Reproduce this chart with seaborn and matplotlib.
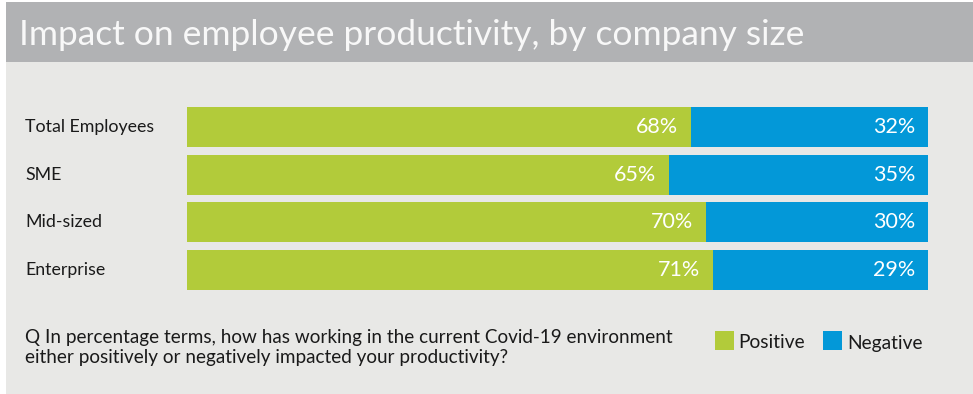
import matplotlib
matplotlib.use("Agg")
import matplotlib.pyplot as plt
from matplotlib.patches import Rectangle
from matplotlib import transforms
import pandas as pd
import seaborn as sns

# Survey results by company size
groups = ["Total Employees", "SME", "Mid-sized", "Enterprise"]
positive = [68, 65, 70, 71]
negative = [32, 35, 30, 29]
series = ["Positive", "Negative"]

title = "Impact on employee productivity, by company size"
question = ["Q In percentage terms, how has working in the current Covid-19 environment",
            "either positively or negatively impacted your productivity?"]

GREEN = "#b2cb3a"
BLUE = "#0398d8"
HEADER = "#b1b2b4"
PANEL = "#e8e8e6"

sns.set_theme(style="white")
plt.rcParams["font.family"] = ["Lato", "DejaVu Sans"]

W, H = 973, 394
fig = plt.figure(figsize=(W / 100, H / 100), dpi=100, facecolor="white")


def fx(px):
    return px / W


def fy(py):
    return 1 - py / H


# panel and header band, kept behind the axes
fig.patches.append(Rectangle((fx(6), 0), 1 - fx(6), fy(62), transform=fig.transFigure,
                             facecolor=PANEL, edgecolor="none", zorder=-2))
fig.patches.append(Rectangle((fx(6), fy(62)), 1 - fx(6), fy(2) - fy(62), transform=fig.transFigure,
                             facecolor=HEADER, edgecolor="none", zorder=-2))
fig.text(fx(19), fy(35), title, color="#f8f8f8", fontsize=25.5,
         ha="left", va="center")

df = pd.DataFrame({"group": groups, "Positive": positive, "Negative": negative})
df["Total"] = df["Positive"] + df["Negative"]

ax = fig.add_axes([fx(187), fy(290), fx(928) - fx(187), fy(107) - fy(290)])
ax.set_facecolor("none")
# stacked bars: full length in blue, positive share drawn over it in green
sns.barplot(data=df, y="group", x="Total", color=BLUE, saturation=1, width=0.84,
            orient="h", linewidth=0, ax=ax)
sns.barplot(data=df, y="group", x="Positive", color=GREEN, saturation=1, width=0.84,
            orient="h", linewidth=0, ax=ax)
ax.set_xlim(0, 100)
ax.set_ylim(3.42, -0.42)
ax.set_axis_off()

for i, (p, n) in enumerate(zip(positive, negative)):
    ax.annotate(f"{p}%", (p, i), xytext=(-13, 0), textcoords="offset pixels",
                ha="right", va="center", color="white", fontsize=15.5)
    ax.annotate(f"{n}%", (p + n, i), xytext=(-13, 0), textcoords="offset pixels",
                ha="right", va="center", color="white", fontsize=15.5)

lab_tr = transforms.blended_transform_factory(fig.transFigure, ax.transData)
for i, g in enumerate(groups):
    ax.text(fx(25), i, g, transform=lab_tr, ha="left", va="center",
            color="#1a1a1a", fontsize=12.8)

# question footnote
fig.text(fx(25), fy(338), question[0], ha="left", va="center", color="#1a1a1a", fontsize=13.6)
fig.text(fx(25), fy(358), question[1], ha="left", va="center", color="#1a1a1a", fontsize=13.6)

# legend
legend_items = [(series[0], GREEN, 715, 738), (series[1], BLUE, 823, 847)]
for name, col, x0, tx in legend_items:
    fig.patches.append(Rectangle((fx(x0), fy(350)), fx(19), fy(331) - fy(350),
                                 transform=fig.transFigure, facecolor=col,
                                 edgecolor="none", zorder=1))
    fig.text(fx(tx), fy(343), name, ha="left", va="center", color="#1a1a1a", fontsize=13.8)

fig.savefig("out.png", dpi=100, facecolor="white")
